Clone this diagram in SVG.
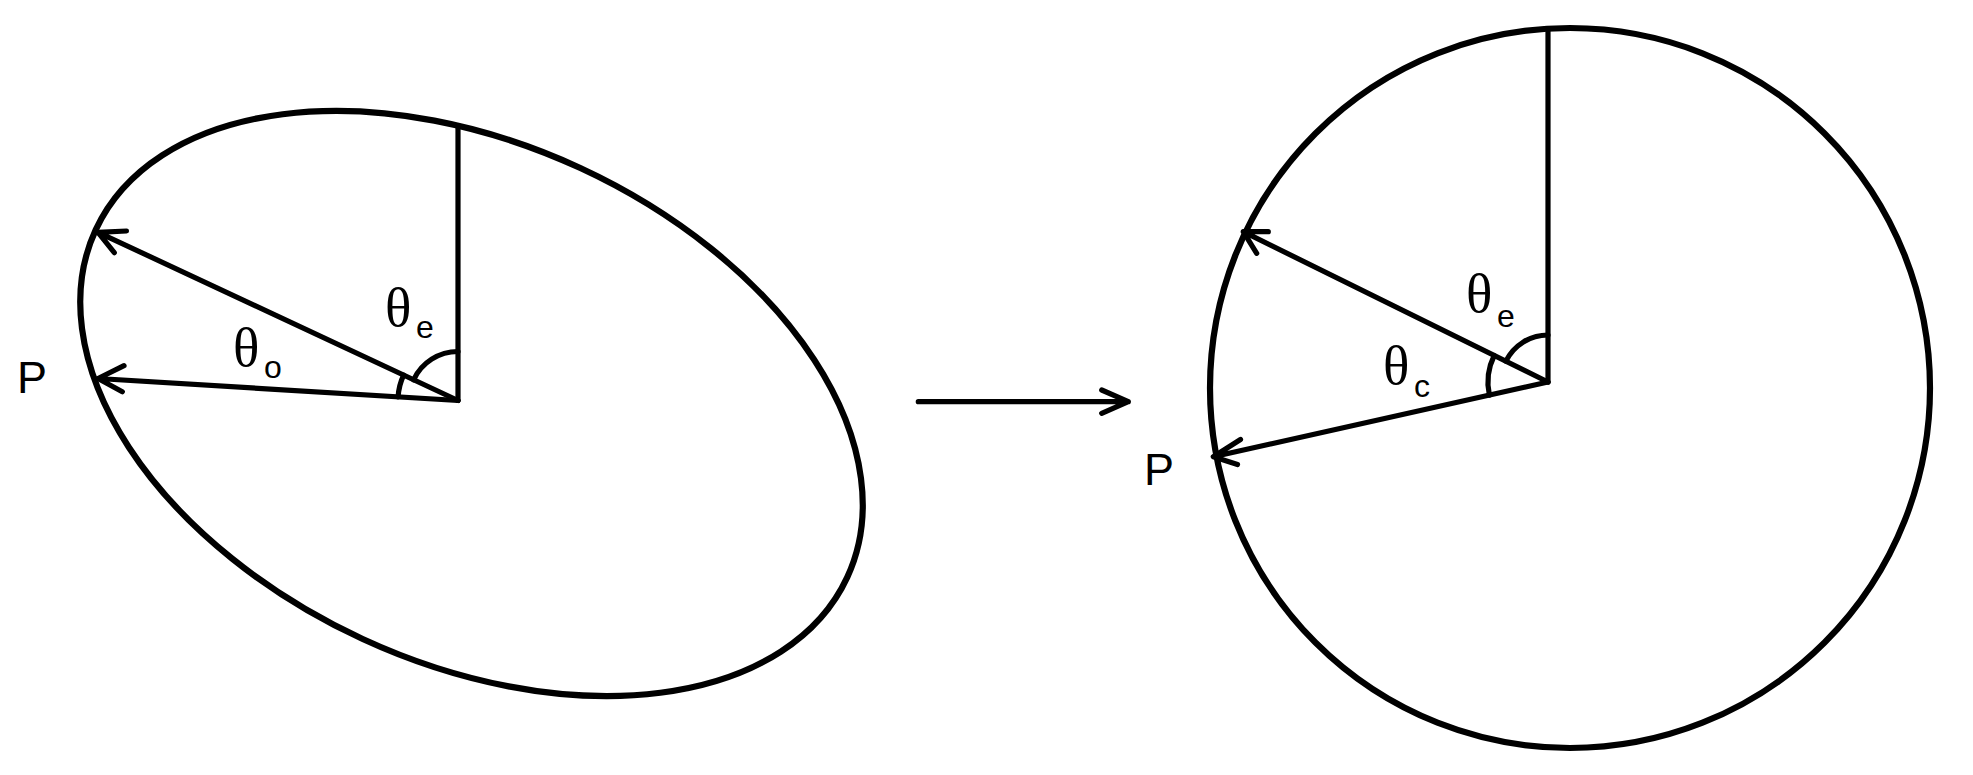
<svg xmlns="http://www.w3.org/2000/svg" width="1973" height="775" viewBox="0 0 1973 775">
<style>
.s{fill:none;stroke:#000;stroke-width:5.2;stroke-linecap:round;stroke-linejoin:round}
.o{fill:none;stroke:#000;stroke-width:6.2}
.th{font-family:"Liberation Serif","DejaVu Serif",serif;font-size:55px;fill:#000}
.sub{font-family:"Liberation Sans","DejaVu Sans",sans-serif;font-size:32px;fill:#000}
.p{font-family:"Liberation Sans","DejaVu Sans",sans-serif;font-size:45px;fill:#000}
</style>
<rect width="1973" height="775" fill="#fff"/>
<g id="ellipse-figure">
<ellipse class="o" cx="471.5" cy="403.5" rx="414" ry="259.4" transform="rotate(24.8 471.5 403.5)"/>
</g>
<g id="circle-figure">
<circle class="o" cx="1570" cy="388" r="360"/>
</g>
<g id="connectors">
<path class="s" d="M458 126 L458 400.5"/>
<path class="s" d="M458 400.5 L98 232.3 M126.5 231 L98 232.3 L114.3 252.7"/>
<path class="s" d="M458 400.5 L98 378.5 M124 365.7 L98 378.5 L122.3 391.7"/>
<path class="s" d="M458 351.5 A49 49 0 0 0 413.6 379.8"/>
<path class="s" d="M398.1 396.9 A60 60 0 0 1 403.6 375.1"/>
<path class="s" d="M918.3 401.7 L1128.3 401.7 M1101.7 390 L1128.3 401.7 L1101.7 413.3"/>
<path class="s" d="M1548 30 L1548 382"/>
<path class="s" d="M1548 382 L1243.3 231.7 M1268.3 231.7 L1243.3 231.7 L1256.7 253.3"/>
<path class="s" d="M1548 382 L1213.3 456.7 M1240.5 439.5 L1213.3 456.7 L1237.5 464.5"/>
<path class="s" d="M1548 335 A47 47 0 0 0 1505.9 361.2"/>
<path class="s" d="M1489.4 395.1 A60 60 0 0 1 1494.2 355.5"/>
</g>
<g id="labels">
<text class="p" x="17" y="393">P</text>
<text class="th" x="385" y="326">θ</text><text class="sub" x="416" y="338">e</text>
<text class="th" x="233" y="366">θ</text><text class="sub" x="264" y="378">o</text>
<text class="p" x="1144" y="485">P</text>
<text class="th" x="1466" y="312">θ</text><text class="sub" x="1497" y="327">e</text>
<text class="th" x="1383" y="384">θ</text><text class="sub" x="1414" y="397">c</text>
</g>
</svg>
